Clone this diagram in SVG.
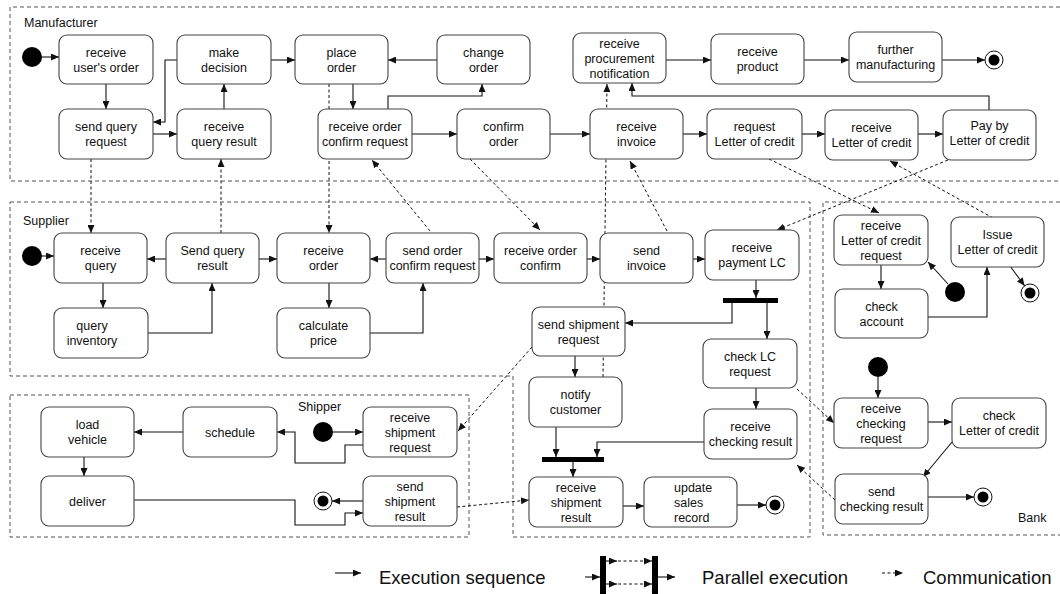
<svg xmlns="http://www.w3.org/2000/svg" width="1060" height="594" viewBox="0 0 1060 594">
  <defs>
    <marker id="arr" markerUnits="userSpaceOnUse" markerWidth="8" markerHeight="7" refX="8" refY="3.5" orient="auto">
      <path d="M0,0 L8,3.5 L0,7 z" fill="#111"/>
    </marker>
    <style>
      .frame { fill: none; stroke: #555; stroke-width: 1; stroke-dasharray: 4 3; }
      .node rect { fill: #fff; stroke: #444; stroke-width: 1.1; }
      text { font-family: "Liberation Sans", Arial, sans-serif; font-size: 12.5px; fill: #111; text-anchor: middle; }
      .lbl { text-anchor: start; }
      .legend { font-size: 18.5px; text-anchor: start; }
      .flow { fill: none; stroke: #111; stroke-width: 1.1; marker-end: url(#arr); }
      .comm { fill: none; stroke: #111; stroke-width: 1; stroke-dasharray: 3 2.5; marker-end: url(#arr); }
      .start { fill: #000; }
      .endring { fill: #fff; stroke: #111; stroke-width: 1; }
      .bar { fill: #000; }
    </style>
  </defs>

  <!-- swimlane frames -->
  <g id="frames">
    <path class="frame" d="M1060,7 H10 V181 H1060"/>
    <path class="frame" d="M10,202 H810 V537 H513 V376 H10 Z"/>
    <rect class="frame" x="10" y="395" width="459" height="142"/>
    <path class="frame" d="M1060,202 H823 V535 H1060"/>
    <text class="lbl" x="24" y="27">Manufacturer</text>
    <text class="lbl" x="23" y="225">Supplier</text>
    <text class="lbl" x="298" y="411">Shipper</text>
    <text class="lbl" x="1018" y="522">Bank</text>
  </g>

  <!-- connectors -->
  <g id="connectors">
    <!-- manufacturer flow -->
    <path class="flow" d="M42,57 H59"/>
    <path class="flow" d="M106,84 V109"/>
    <path class="flow" d="M153,134 H177"/>
    <path class="flow" d="M224,109 V84"/>
    <path class="flow" d="M177,60 H165 V122 H153"/>
    <path class="flow" d="M271,60 H295"/>
    <path class="flow" d="M353,84 V109"/>
    <path class="flow" d="M437,60 H388"/>
    <path class="flow" d="M388,109 V96 H482 V84"/>
    <path class="flow" d="M412,134 H457"/>
    <path class="flow" d="M550,134 H590"/>
    <path class="flow" d="M683,134 H707"/>
    <path class="flow" d="M802,134 H825"/>
    <path class="flow" d="M918,134 H943"/>
    <path class="flow" d="M989,110 V96 H632 V83"/>
    <path class="flow" d="M666,60 H711"/>
    <path class="flow" d="M804,60 H849"/>
    <path class="flow" d="M942,60 H985"/>

    <!-- supplier flow -->
    <path class="flow" d="M42,256 H54"/>
    <path class="flow" d="M166,259 H147"/>
    <path class="flow" d="M259,259 H277"/>
    <path class="flow" d="M103,283 V308"/>
    <path class="flow" d="M148,333 H212 V283"/>
    <path class="flow" d="M329,283 V308"/>
    <path class="flow" d="M370,333 H423 V283"/>
    <path class="flow" d="M386,259 H370"/>
    <path class="flow" d="M479,259 H494"/>
    <path class="flow" d="M587,259 H600"/>
    <path class="flow" d="M693,259 H705"/>
    <path class="flow" d="M756,280 V298"/>
    <path class="flow" d="M732,303 V323 H625"/>
    <path class="flow" d="M767,303 V339"/>
    <path class="flow" d="M756,388 V409"/>
    <path class="flow" d="M704,442 H597 V457"/>
    <path class="flow" d="M556,427 V457"/>
    <path class="flow" d="M575,356 V377"/>
    <path class="flow" d="M573,462 V477"/>
    <path class="flow" d="M623,506 H644"/>
    <path class="flow" d="M737,505 H766"/>

    <!-- shipper flow -->
    <path class="flow" d="M333,432 H363"/>
    <path class="flow" d="M363,445 H345 V463 H295 V432 H277"/>
    <path class="flow" d="M183,432 H134"/>
    <path class="flow" d="M84,457 V476"/>
    <path class="flow" d="M134,500 H295 V525 H345 V513 H363"/>
    <path class="flow" d="M363,501 H332"/>

    <!-- bank flow -->
    <path class="flow" d="M948,284 L928,262"/>
    <path class="flow" d="M1010,266 L1024.6,285.8"/>
    <path class="flow" d="M881,265 V289"/>
    <path class="flow" d="M928,317 H987 V267"/>
    <path class="flow" d="M878,377 V398"/>
    <path class="flow" d="M928,422 H952"/>
    <path class="flow" d="M952,442 L923,477"/>
    <path class="flow" d="M928,497 H974"/>

    <!-- messages between lanes -->
    <path class="comm" d="M91,159 V233"/>
    <path class="comm" d="M221,233 V159"/>
    <path class="comm" d="M329,84 V233"/>
    <path class="comm" d="M430,231 L372,160"/>
    <path class="comm" d="M470,159 L540,230"/>
    <path class="comm" d="M667,231 L630,161"/>
    <path class="comm" d="M603,377 L607,84"/>
    <path class="comm" d="M769,159 L879,213"/>
    <path class="comm" d="M993,218 L890,161"/>
    <path class="comm" d="M948,160 L777,230"/>
    <path class="comm" d="M797,389 L834,423"/>
    <path class="comm" d="M835,500 L797,465"/>
    <path class="comm" d="M532,347 L458,431"/>
    <path class="comm" d="M457,507 L529,500"/>
  </g>

  <!-- Manufacturer -->
  <circle id="m-start" class="start" cx="32" cy="57" r="10"/>
  <g id="m-receive-users-order" class="node"><rect x="59" y="35" width="94" height="49" rx="8"/><text><tspan x="106" y="57">receive</tspan><tspan x="106" y="72">user's order</tspan></text></g>
  <g id="m-make-decision" class="node"><rect x="177" y="35" width="94" height="49" rx="8"/><text><tspan x="224" y="57">make</tspan><tspan x="224" y="72">decision</tspan></text></g>
  <g id="m-place-order" class="node"><rect x="295" y="35" width="93" height="49" rx="8"/><text><tspan x="341.5" y="57">place</tspan><tspan x="341.5" y="72">order</tspan></text></g>
  <g id="m-change-order" class="node"><rect x="437" y="35" width="93" height="49" rx="8"/><text><tspan x="483.5" y="57">change</tspan><tspan x="483.5" y="72">order</tspan></text></g>
  <g id="m-receive-procurement" class="node"><rect x="573" y="33" width="93" height="50" rx="8"/><text><tspan x="619.5" y="47.5">receive</tspan><tspan x="619.5" y="62.5">procurement</tspan><tspan x="619.5" y="77.5">notification</tspan></text></g>
  <g id="m-receive-product" class="node"><rect x="711" y="34" width="93" height="50" rx="8"/><text><tspan x="757.5" y="56">receive</tspan><tspan x="757.5" y="71">product</tspan></text></g>
  <g id="m-further-manufacturing" class="node"><rect x="849" y="32" width="93" height="50" rx="8"/><text><tspan x="895.5" y="54">further</tspan><tspan x="895.5" y="69">manufacturing</tspan></text></g>
  <g id="m-end"><circle class="endring" cx="994" cy="60" r="9"/><circle class="start" cx="994" cy="60" r="5.5"/></g>
  <g id="m-send-query-request" class="node"><rect x="59" y="109" width="94" height="50" rx="8"/><text><tspan x="106" y="131">send query</tspan><tspan x="106" y="146">request</tspan></text></g>
  <g id="m-receive-query-result" class="node"><rect x="177" y="109" width="94" height="50" rx="8"/><text><tspan x="224" y="131">receive</tspan><tspan x="224" y="146">query result</tspan></text></g>
  <g id="m-receive-order-confirm-request" class="node"><rect x="318" y="109" width="94" height="50" rx="8"/><text><tspan x="365" y="131">receive order</tspan><tspan x="365" y="146">confirm request</tspan></text></g>
  <g id="m-confirm-order" class="node"><rect x="457" y="109" width="93" height="50" rx="8"/><text><tspan x="503.5" y="131">confirm</tspan><tspan x="503.5" y="146">order</tspan></text></g>
  <g id="m-receive-invoice" class="node"><rect x="590" y="109" width="93" height="50" rx="8"/><text><tspan x="636.5" y="131">receive</tspan><tspan x="636.5" y="146">invoice</tspan></text></g>
  <g id="m-request-lc" class="node"><rect x="707" y="109" width="95" height="50" rx="8"/><text><tspan x="754.5" y="131">request</tspan><tspan x="754.5" y="146">Letter of credit</tspan></text></g>
  <g id="m-receive-lc" class="node"><rect x="825" y="110" width="93" height="50" rx="8"/><text><tspan x="871.5" y="132">receive</tspan><tspan x="871.5" y="147">Letter of credit</tspan></text></g>
  <g id="m-pay-by-lc" class="node"><rect x="943" y="110" width="93" height="50" rx="8"/><text><tspan x="989.5" y="130">Pay by</tspan><tspan x="989.5" y="145">Letter of credit</tspan></text></g>

  <!-- Supplier -->
  <circle id="s-start" class="start" cx="32" cy="256" r="10"/>
  <g id="s-receive-query" class="node"><rect x="54" y="233" width="93" height="50" rx="8"/><text><tspan x="100.5" y="255">receive</tspan><tspan x="100.5" y="270">query</tspan></text></g>
  <g id="s-send-query-result" class="node"><rect x="166" y="233" width="93" height="50" rx="8"/><text><tspan x="212.5" y="255">Send query</tspan><tspan x="212.5" y="270">result</tspan></text></g>
  <g id="s-receive-order" class="node"><rect x="277" y="233" width="93" height="50" rx="8"/><text><tspan x="323.5" y="255">receive</tspan><tspan x="323.5" y="270">order</tspan></text></g>
  <g id="s-send-order-confirm-request" class="node"><rect x="386" y="233" width="93" height="50" rx="8"/><text><tspan x="432.5" y="255">send order</tspan><tspan x="432.5" y="270">confirm request</tspan></text></g>
  <g id="s-receive-order-confirm" class="node"><rect x="494" y="233" width="93" height="50" rx="8"/><text><tspan x="540.5" y="255">receive order</tspan><tspan x="540.5" y="270">confirm</tspan></text></g>
  <g id="s-send-invoice" class="node"><rect x="600" y="233" width="93" height="50" rx="8"/><text><tspan x="646.5" y="255">send</tspan><tspan x="646.5" y="270">invoice</tspan></text></g>
  <g id="s-receive-payment-lc" class="node"><rect x="705" y="230" width="94" height="50" rx="8"/><text><tspan x="752" y="252">receive</tspan><tspan x="752" y="267">payment LC</tspan></text></g>
  <g id="s-query-inventory" class="node"><rect x="54" y="308" width="94" height="50" rx="8"/><text><tspan x="92" y="330">query</tspan><tspan x="92" y="345">inventory</tspan></text></g>
  <g id="s-calculate-price" class="node"><rect x="277" y="308" width="93" height="50" rx="8"/><text><tspan x="323.5" y="330">calculate</tspan><tspan x="323.5" y="345">price</tspan></text></g>
  <rect id="s-fork" class="bar" x="723" y="298" width="55" height="5"/>
  <g id="s-send-shipment-request" class="node"><rect x="532" y="307" width="93" height="49" rx="8"/><text><tspan x="578.5" y="328.5">send shipment</tspan><tspan x="578.5" y="343.5">request</tspan></text></g>
  <g id="s-notify-customer" class="node"><rect x="529" y="377" width="93" height="50" rx="8"/><text><tspan x="575.5" y="399">notify</tspan><tspan x="575.5" y="414">customer</tspan></text></g>
  <g id="s-check-lc-request" class="node"><rect x="703" y="339" width="94" height="49" rx="8"/><text><tspan x="750" y="360.5">check LC</tspan><tspan x="750" y="375.5">request</tspan></text></g>
  <g id="s-receive-checking-result" class="node"><rect x="704" y="409" width="93" height="50" rx="8"/><text><tspan x="750.5" y="431">receive</tspan><tspan x="750.5" y="446">checking result</tspan></text></g>
  <rect id="s-join" class="bar" x="542" y="457" width="62" height="5"/>
  <g id="s-receive-shipment-result" class="node"><rect x="529" y="477" width="94" height="50" rx="8"/><text><tspan x="576" y="491.5">receive</tspan><tspan x="576" y="506.5">shipment</tspan><tspan x="576" y="521.5">result</tspan></text></g>
  <g id="s-update-sales-record" class="node"><rect x="644" y="477" width="93" height="50" rx="8"/><text class="lbl"><tspan x="674" y="491.5">update</tspan><tspan x="674" y="506.5">sales</tspan><tspan x="674" y="521.5">record</tspan></text></g>
  <g id="s-end"><circle class="endring" cx="775" cy="505" r="9"/><circle class="start" cx="775" cy="505" r="5.5"/></g>

  <!-- Shipper -->
  <circle id="p-start" class="start" cx="323" cy="432" r="10"/>
  <g id="p-receive-shipment-request" class="node"><rect x="363" y="407" width="94" height="50" rx="8"/><text><tspan x="410" y="421.5">receive</tspan><tspan x="410" y="436.5">shipment</tspan><tspan x="410" y="451.5">request</tspan></text></g>
  <g id="p-schedule" class="node"><rect x="183" y="407" width="94" height="50" rx="8"/><text x="230" y="436.5">schedule</text></g>
  <g id="p-load-vehicle" class="node"><rect x="41" y="407" width="93" height="50" rx="8"/><text><tspan x="87.5" y="429">load</tspan><tspan x="87.5" y="444">vehicle</tspan></text></g>
  <g id="p-deliver" class="node"><rect x="41" y="476" width="93" height="50" rx="8"/><text x="87.5" y="505.5">deliver</text></g>
  <g id="p-send-shipment-result" class="node"><rect x="363" y="476" width="94" height="50" rx="8"/><text><tspan x="410" y="490.5">send</tspan><tspan x="410" y="505.5">shipment</tspan><tspan x="410" y="520.5">result</tspan></text></g>
  <g id="p-end"><circle class="endring" cx="323" cy="501" r="9"/><circle class="start" cx="323" cy="501" r="5.5"/></g>

  <!-- Bank -->
  <g id="b-receive-lc-request" class="node"><rect x="834" y="215" width="94" height="50" rx="8"/><text><tspan x="881" y="229.5">receive</tspan><tspan x="881" y="244.5">Letter of credit</tspan><tspan x="881" y="259.5">request</tspan></text></g>
  <g id="b-issue-lc" class="node"><rect x="951" y="217" width="93" height="50" rx="8"/><text><tspan x="997.5" y="239">Issue</tspan><tspan x="997.5" y="254">Letter of credit</tspan></text></g>
  <g id="b-check-account" class="node"><rect x="835" y="289" width="93" height="49" rx="8"/><text><tspan x="881.5" y="310.5">check</tspan><tspan x="881.5" y="325.5">account</tspan></text></g>
  <circle id="b-start-1" class="start" cx="955" cy="292" r="10"/>
  <g id="b-end-1"><circle class="endring" cx="1030" cy="293" r="9"/><circle class="start" cx="1030" cy="293" r="5.5"/></g>
  <circle id="b-start-2" class="start" cx="878" cy="367" r="10"/>
  <g id="b-receive-checking-request" class="node"><rect x="834" y="398" width="94" height="50" rx="8"/><text><tspan x="881" y="412.5">receive</tspan><tspan x="881" y="427.5">checking</tspan><tspan x="881" y="442.5">request</tspan></text></g>
  <g id="b-check-lc" class="node"><rect x="952" y="398" width="94" height="50" rx="8"/><text><tspan x="999" y="420">check</tspan><tspan x="999" y="435">Letter of credit</tspan></text></g>
  <g id="b-send-checking-result" class="node"><rect x="835" y="474" width="93" height="50" rx="8"/><text><tspan x="881.5" y="496">send</tspan><tspan x="881.5" y="511">checking result</tspan></text></g>
  <g id="b-end-2"><circle class="endring" cx="983" cy="497" r="9"/><circle class="start" cx="983" cy="497" r="5.5"/></g>

  <!-- legend -->
  <g id="legend">
    <path class="flow" d="M335,573 H361"/>
    <text class="legend" x="379" y="584">Execution sequence</text>
    <path class="flow" d="M585,577 H600"/>
    <rect class="bar" x="600" y="556" width="6" height="38"/>
    <rect class="bar" x="652" y="556" width="6" height="38"/>
    <path class="flow" d="M606,561 H617"/>
    <path class="comm" d="M618,561 H652"/>
    <path class="flow" d="M606,584 H617"/>
    <path class="comm" d="M618,584 H652"/>
    <path class="flow" d="M658,577 H675"/>
    <text class="legend" x="702" y="584">Parallel execution</text>
    <path class="comm" d="M882,573 H903"/>
    <text class="legend" x="923" y="584">Communication</text>
  </g>
</svg>
